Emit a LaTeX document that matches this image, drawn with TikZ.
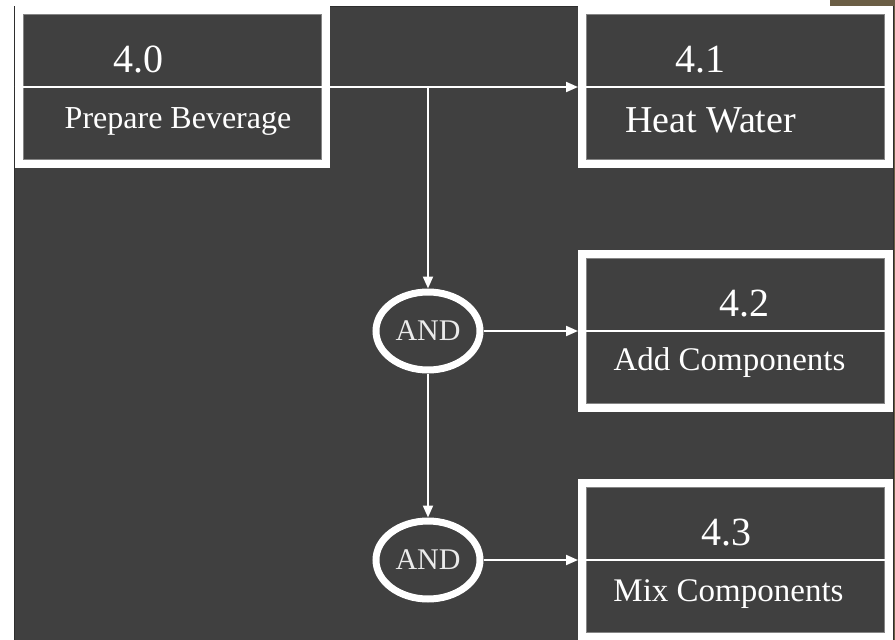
\documentclass[tikz,border=0pt]{standalone}
\usepackage{fontspec}
\setmainfont{Liberation Serif}
\usetikzlibrary{arrows.meta,calc,shapes.geometric}
\definecolor{slate}{HTML}{404040}
\definecolor{slateedge}{HTML}{2E2E2E}
\definecolor{rim}{HTML}{858585}
\definecolor{bark}{HTML}{6B5E45}

\tikzset{
  procbox/.style={rectangle,draw=white,line width=8pt,fill=slate,
    minimum width=307pt,minimum height=154pt,inner sep=0pt},
  andnode/.style={ellipse,draw=white,line width=7pt,fill=slate,
    minimum width=104pt,minimum height=78pt,inner sep=0pt,
    text=white!92!black,font=\fontsize{30}{32}\selectfont},
  flow/.style={white,line width=2pt,-{Triangle[length=12pt,width=10pt]}},
  divline/.style={white,line width=2pt},
  rimline/.style={rim,line width=1pt},
}

\begin{document}
\begin{tikzpicture}[x=1pt,y=-1pt]
\useasboundingbox (0,0) rectangle (895,640);
% ---------- slide background ----------
\fill[white] (0,0) rectangle (895,640);
\fill[bark] (830,0) rectangle (895,640);
\filldraw[fill=slate,draw=slateedge,line width=1pt] (14,6) rectangle (893,641);
% ---------- process boxes: name/centre/number/label ----------
\foreach \nm/\cx/\cy/\num/\lbl/\nx/\lx/\ly/\lsz in {
    40/172/87/4.0/Prepare Beverage/-34/6/41/32,
    41/735.5/87/4.1/Heat Water/-35/-25/45/38,
    42/735.5/331/4.2/Add Components/9/-6/39/33,
    43/735.5/560/4.3/Mix Components/-9/-7/41/33}{
  \node[procbox] (b\nm) at (\cx,\cy) {};
  \draw[rimline] ($(b\nm.north west)+(8.5,8.5)$) rectangle ($(b\nm.south east)+(-8.5,-8.5)$);
  \draw[divline] (b\nm.west) -- (b\nm.east);
  \node[white,anchor=base,inner sep=0pt,font=\fontsize{40}{42}\selectfont]
    (n\nm) at ($(b\nm.center)+(\nx,-15)$) {\num};
  \node[white,anchor=base,inner sep=0pt,font=\fontsize{\lsz}{\lsz}\selectfont]
    (t\nm) at ($(b\nm.center)+(\lx,\ly)$) {\lbl};}
% ---------- AND junctions ----------
\node[andnode] (and1) at (428,331) {AND};
\node[andnode] (and2) at (428,560) {AND};
% ---------- connectors ----------
\draw[flow] (b40.east) -- (b40.east -| b41.west);
\draw[flow] (b40.east -| and1.north) -- (and1.north);
\draw[flow] (and1.east) -- (b42.west);
\draw[flow] (and1.south) -- (and2.north);
\draw[flow] (and2.east) -- (b43.west);
\end{tikzpicture}
\end{document}
